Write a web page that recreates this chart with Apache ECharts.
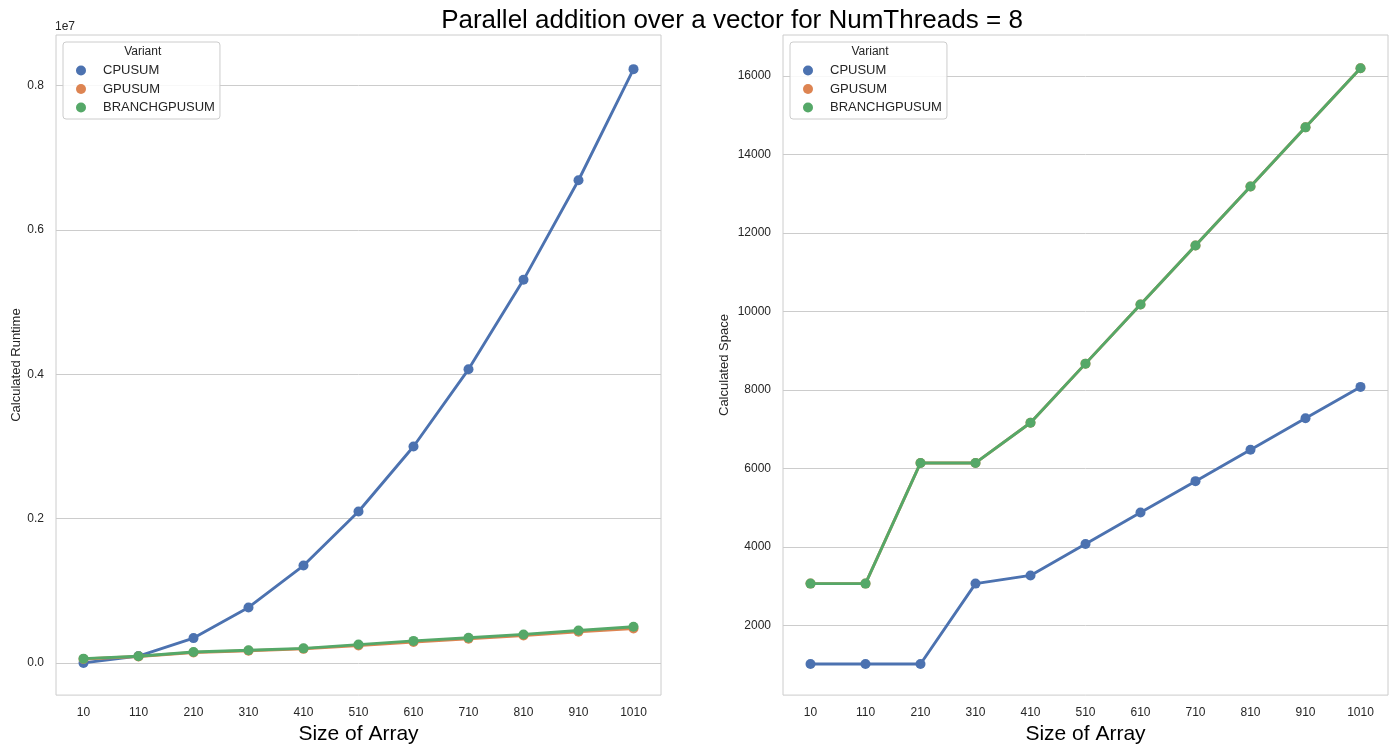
<!DOCTYPE html>
<html>
<head>
<meta charset="utf-8">
<script src="https://cdn.jsdelivr.net/npm/echarts@6/dist/echarts.min.js"></script>
<style>
  html, body { margin: 0; padding: 0; background: #ffffff; }
  #chart { width: 1395px; height: 750px; }
</style>
</head>
<body>
<div id="chart"></div>
<script>
// Array sizes on the x axis
const sizes = ['10', '110', '210', '310', '410', '510', '610', '710', '810', '910', '1010'];
const variants = ['CPUSUM', 'GPUSUM', 'BRANCHGPUSUM'];

// Calculated runtime per variant
const cpuRuntime = [800, 96800, 345000, 770000, 1350000, 2100000, 3000000, 4070000, 5310000, 6690000, 8230000];
const gpuRuntime = [55000, 90000, 145000, 170000, 196000, 243000, 290000, 336000, 381000, 432000, 478000];
const branchRuntime = [60000, 93000, 152000, 176000, 203000, 255000, 306000, 350000, 396000, 450000, 502000];

// Calculated space per variant
const cpuSpace = [1024, 1024, 1024, 3072, 3280, 4080, 4880, 5680, 6480, 7280, 8080];
const gpuSpace = [3072, 3072, 6144, 6144, 7168, 8672, 10176, 11680, 13184, 14688, 16192];
const branchSpace = [3072, 3072, 6144, 6144, 7168, 8672, 10176, 11680, 13184, 14688, 16192];

// Tick values on the y axes
const runtimeTicks = [0, 2000000, 4000000, 6000000, 8000000];
const spaceTicks = [2000, 4000, 6000, 8000, 10000, 12000, 14000, 16000];

const colors = ['#4C72B0', '#DD8452', '#55A868'];
const FONT = '"Liberation Sans", Arial, Helvetica, sans-serif';
const TEXT = '#262626';
const GRIDC = '#cccccc';

const chart = echarts.init(document.getElementById('chart'));

function xAxis(gridIndex) {
  return {
    type: 'category',
    gridIndex,
    data: sizes,
    boundaryGap: true,
    name: 'Size of Array',
    nameLocation: 'middle',
    nameGap: 27,
    nameTextStyle: { fontFamily: FONT, fontSize: 21, color: '#000000', verticalAlign: 'top' },
    axisLine: { show: false },
    axisTick: { show: false },
    axisLabel: { fontFamily: FONT, fontSize: 12, color: TEXT, margin: 12 },
    splitLine: { show: false }
  };
}

function yAxis(gridIndex, name, min, max, ticks, nameGap, fmt) {
  return {
    type: 'value',
    gridIndex,
    min, max,
    name,
    nameLocation: 'middle',
    nameGap,
    nameTextStyle: { fontFamily: FONT, fontSize: 13, color: TEXT },
    axisLine: { show: false },
    axisTick: { show: false, customValues: ticks },
    axisLabel: {
      fontFamily: FONT, fontSize: 12, color: TEXT, margin: 12,
      customValues: ticks,
      formatter: fmt
    },
    splitLine: { show: true, lineStyle: { color: GRIDC, width: 1 } }
  };
}

function lineSeries(name, data, idx, axisIdx) {
  return {
    type: 'line',
    name,
    xAxisIndex: axisIdx,
    yAxisIndex: axisIdx,
    data,
    color: colors[idx],
    symbol: 'circle',
    symbolSize: 10,
    showSymbol: true,
    lineStyle: { width: 2.9, color: colors[idx] },
    itemStyle: { color: colors[idx] },
    z: 2 + idx
  };
}

function legend(left) {
  return {
    orient: 'vertical',
    left, top: 42,
    data: variants,
    icon: 'circle',
    itemWidth: 34,
    itemHeight: 10,
    itemGap: 5.5,
    padding: [22, 5, 5, 13],
    backgroundColor: 'rgba(255,255,255,0.85)',
    borderColor: GRIDC,
    borderWidth: 1,
    borderRadius: 3,
    textStyle: { fontFamily: FONT, fontSize: 13, color: TEXT },
    selectedMode: false
  };
}

const option = {
  animation: false,
  backgroundColor: '#ffffff',
  title: {
    text: 'Parallel addition over a vector for NumThreads = 8',
    left: 727,
    textAlign: 'center',
    top: 3,
    textStyle: { fontFamily: FONT, fontSize: 26, fontWeight: 'normal', color: '#000000' }
  },
  grid: [
    { left: 56, width: 605, top: 35, bottom: 52, show: true, borderColor: GRIDC, borderWidth: 1, backgroundColor: 'transparent' },
    { left: 783, width: 605, top: 35, bottom: 52, show: true, borderColor: GRIDC, borderWidth: 1, backgroundColor: 'transparent' }
  ],
  legend: [legend(63), legend(790)],
  xAxis: [xAxis(0), xAxis(1)],
  yAxis: [
    yAxis(0, 'Calculated Runtime', -445000, 8703000, runtimeTicks, 33, v => (v / 1e7).toFixed(1)),
    yAxis(1, 'Calculated Space', 233, 17039, spaceTicks, 52, v => String(v))
  ],
  graphic: [
    { type: 'text', left: 55, top: 21, style: { text: '1e7', font: '12px ' + FONT, fill: TEXT } },
    { type: 'text', x: 142.7, y: 46, style: { text: 'Variant', font: '12px ' + FONT, fill: TEXT, textAlign: 'center' }, z: 100 },
    { type: 'text', x: 870, y: 46, style: { text: 'Variant', font: '12px ' + FONT, fill: TEXT, textAlign: 'center' }, z: 100 }
  ],
  series: [
    lineSeries('CPUSUM', cpuRuntime, 0, 0),
    lineSeries('GPUSUM', gpuRuntime, 1, 0),
    lineSeries('BRANCHGPUSUM', branchRuntime, 2, 0),
    lineSeries('CPUSUM', cpuSpace, 0, 1),
    lineSeries('GPUSUM', gpuSpace, 1, 1),
    lineSeries('BRANCHGPUSUM', branchSpace, 2, 1)
  ]
};

chart.setOption(option);
</script>
</body>
</html>
